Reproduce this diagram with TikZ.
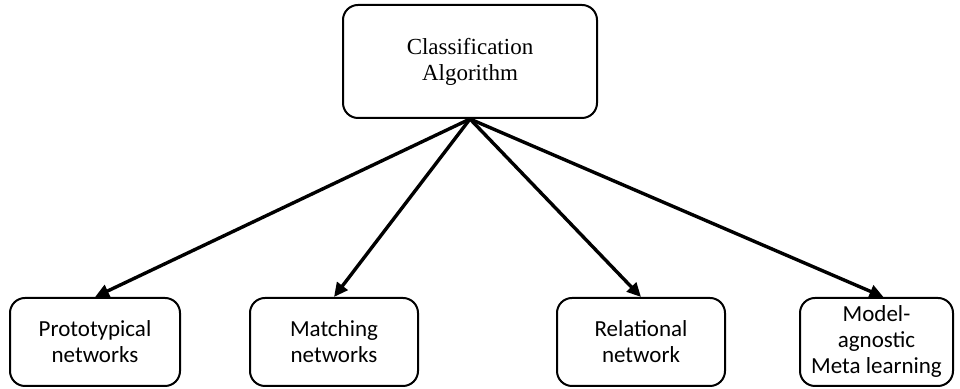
\documentclass[tikz,border=0pt]{standalone}
\usepackage{fontspec}
\setmainfont{Liberation Serif}
\newfontfamily\leaffont{Carlito}
\usetikzlibrary{arrows.meta}

\begin{document}
\begin{tikzpicture}[x=0.5pt,y=0.5pt]

      \tikzset{rootbox/.style={draw, rounded corners=7.5pt, line width=1pt, align=center, minimum width=127pt, minimum height=56.5pt, font=\fontsize{11.5}{13}\selectfont},
               leafbox/.style={draw, rounded corners=7.5pt, line width=1pt, align=center, minimum height=44pt, font=\leaffont\fontsize{11.5}{13}\selectfont},
               link/.style={line width=1.7pt, -{Triangle[length=7pt,width=6.5pt]}}}
      \useasboundingbox (0,0) rectangle (960,389);
% Nodes
	%Rod
      	\node[rootbox] (alg) at (470,327.5) {Classification\\Algorithm};
	%Blade
      	\node[leafbox, minimum width=85pt] (proto) at (95,47) {Prototypical\\networks};
    	\node[leafbox, minimum width=84pt] (match) at (334,47) {Matching\\networks};
  	    \node[leafbox, minimum width=84pt] (rel) at (641,47) {Relational\\network};
  	    \node[leafbox, minimum width=76.5pt] (maml) at (876.5,47) {Model-\\agnostic\\Meta learning};
%Edges
		\draw[link] (alg.south) -- (proto.north);
		\draw[link] (alg.south) -- (match.north);
		\draw[link] (alg.south) -- (rel.north);
		\draw[link] (alg.south) -- ([xshift=3.5pt]maml.north);

	\end{tikzpicture}
\end{document}
